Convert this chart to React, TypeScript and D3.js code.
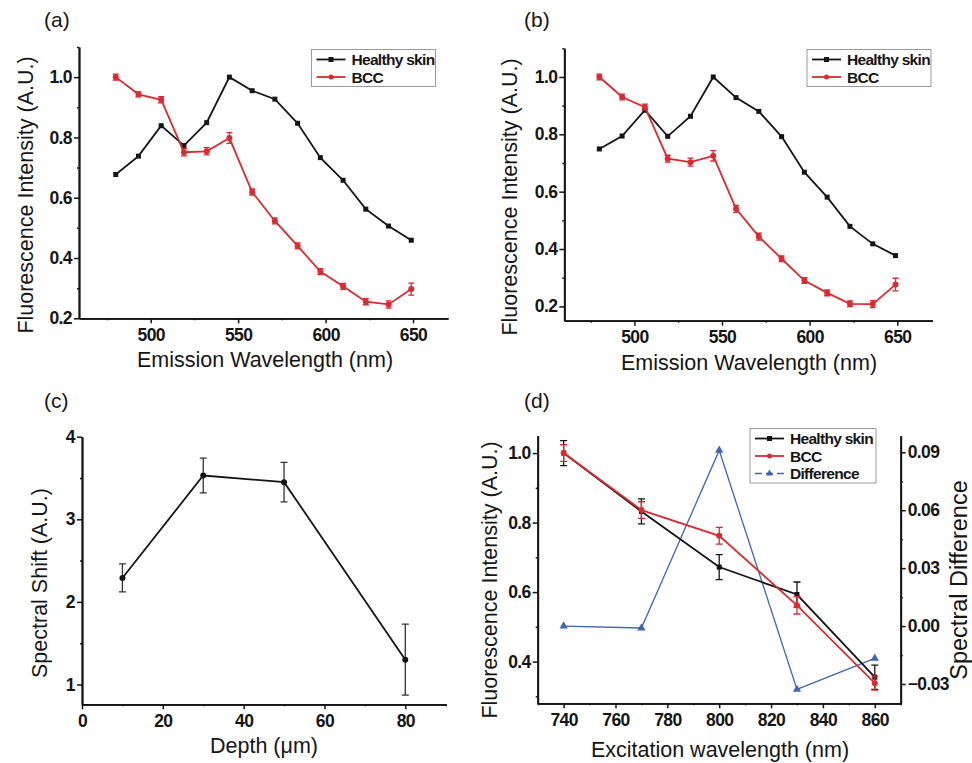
import * as d3 from 'd3'
import {useRef, useEffect} from 'react'

// (a) and (b): emission spectra
const emissionWl = [480, 493, 506, 519, 532, 545, 558, 571, 584, 597, 610, 623, 636, 649]
const healthyA = [0.677, 0.738, 0.839, 0.773, 0.849, 1.0, 0.955, 0.927, 0.847, 0.733, 0.658, 0.562, 0.506, 0.459]
const bccA = [1.0, 0.943, 0.925, 0.751, 0.754, 0.798, 0.619, 0.523, 0.44, 0.355, 0.306, 0.255, 0.246, 0.297]
const bccAErr = [0.01, 0.008, 0.01, 0.012, 0.012, 0.018, 0.01, 0.01, 0.01, 0.01, 0.01, 0.01, 0.012, 0.02]
const healthyB = [0.749, 0.794, 0.884, 0.793, 0.863, 1.0, 0.928, 0.88, 0.792, 0.668, 0.581, 0.479, 0.418, 0.377]
const bccB = [1.0, 0.93, 0.895, 0.715, 0.703, 0.725, 0.54, 0.443, 0.366, 0.29, 0.247, 0.209, 0.208, 0.276]
const bccBErr = [0.01, 0.01, 0.01, 0.012, 0.014, 0.018, 0.012, 0.012, 0.01, 0.01, 0.01, 0.01, 0.012, 0.022]

// (c): spectral shift vs depth
const depth = [10, 30, 50, 80]
const shift = [2.29, 3.53, 3.45, 1.3]
const shiftErr = [0.17, 0.21, 0.24, 0.43]

// (d): excitation
const excitationWl = [740, 770, 800, 830, 860]
const healthyD = [1.0, 0.832, 0.672, 0.593, 0.355]
const healthyDErr = [0.036, 0.036, 0.036, 0.036, 0.035]
const bccD = [1.0, 0.836, 0.762, 0.562, 0.338]
const bccDErr = [0.024, 0.024, 0.024, 0.025, 0.02]
const diffD = [0.0, -0.001, 0.091, -0.0328, -0.0167]

const emissionTicks = [500, 550, 600, 650]
const emissionMinor = [475, 525, 575, 625]
const intensityTicks = [0.2, 0.4, 0.6, 0.8, 1.0]
const intensityMinor = [0.3, 0.5, 0.7, 0.9, 1.1]
const depthTicks = [0, 20, 40, 60, 80]
const depthMinor = [10, 30, 50, 70, 90]
const shiftTicks = [1, 2, 3, 4]
const shiftMinor = [1.5, 2.5, 3.5]
const excTicks = [740, 760, 780, 800, 820, 840, 860]
const excMinor = [730, 750, 770, 790, 810, 830, 850, 870]
const intensDTicks = [0.4, 0.6, 0.8, 1.0]
const intensDMinor = [0.3, 0.5, 0.7, 0.9]
const diffTicks = [-0.03, 0, 0.03, 0.06, 0.09]
const diffMinor = [-0.015, 0.015, 0.045, 0.075]

const RED = '#db2a30'
const BLACK = '#151515'
const BLUE = '#3f64b8'
const FONT = '"Liberation Sans", Arial, sans-serif'

const styleAxis = (g) => {
  g.select('.domain').attr('stroke', BLACK).attr('stroke-width', 1.8)
  g.selectAll('.tick line').attr('stroke', BLACK).attr('stroke-width', 1.5)
  g.selectAll('.tick text')
    .attr('fill', BLACK)
    .attr('font-family', FONT)
    .attr('font-weight', 'bold')
    .attr('font-size', 17.5)
    .attr('letter-spacing', -0.6)
}

const addAxis = (svg, axisFn, scale, pos, major, minor, fmt) => {
  const tr = (axisFn === d3.axisBottom) ? `translate(0,${pos})` : `translate(${pos},0)`
  svg.append('g').attr('transform', tr)
    .call(axisFn(scale).tickValues(minor).tickSize(2).tickFormat(() => '').tickSizeOuter(0))
    .call(styleAxis)
  svg.append('g').attr('transform', tr)
    .call(axisFn(scale).tickValues(major).tickSize(5).tickPadding(axisFn === d3.axisBottom ? 5 : 2).tickFormat(fmt).tickSizeOuter(0))
    .call(styleAxis)
}

const addText = (svg, txt, x, y, size, rotate = 0, anchor = 'middle') => {
  svg.append('text')
    .attr('transform', `translate(${x},${y}) rotate(${rotate})`)
    .attr('text-anchor', anchor)
    .attr('font-family', FONT)
    .attr('font-size', size)
    .attr('fill', BLACK)
    .text(txt)
}

const marker = (g, kind, cx, cy, color, size) => {
  if (kind === 'square') {
    g.append('rect').attr('x', cx - size / 2).attr('y', cy - size / 2)
      .attr('width', size).attr('height', size).attr('fill', color)
  } else if (kind === 'circle') {
    g.append('circle').attr('cx', cx).attr('cy', cy).attr('r', size / 2).attr('fill', color)
  } else {
    const sym = d3.symbol(d3.symbolTriangle, size * size * 0.6)
    g.append('path').attr('d', sym()).attr('transform', `translate(${cx},${cy})`).attr('fill', color)
  }
}

const series = (svg, x, y, xs, ys, opts) => {
  const g = svg.append('g')
  const pts = xs.map((v, i) => [v, ys[i]])
  g.append('path')
    .attr('d', d3.line().x((d) => x(d[0])).y((d) => y(d[1]))(pts))
    .attr('fill', 'none')
    .attr('stroke', opts.color)
    .attr('stroke-width', opts.width || 1.8)
  if (opts.err) {
    pts.forEach((d, i) => {
      const e = opts.err[i]
      const cx = x(d[0])
      const cap = opts.cap || 3
      const y1 = y(d[1] + e), y2 = y(d[1] - e)
      g.append('path')
        .attr('d', `M${cx},${y1}V${y2}M${cx - cap},${y1}H${cx + cap}M${cx - cap},${y2}H${cx + cap}`)
        .attr('stroke', opts.errColor || opts.color)
        .attr('stroke-width', 1.3)
        .attr('fill', 'none')
    })
  }
  pts.forEach((d) => marker(g, opts.marker, x(d[0]), y(d[1]), opts.color, opts.size || 5))
}

const legend = (svg, x0, y0, w, items) => {
  const rowH = 17.5
  svg.append('rect').attr('x', x0).attr('y', y0).attr('width', w).attr('height', items.length * rowH + 2)
    .attr('fill', 'white').attr('stroke', '#9a9a9a').attr('stroke-width', 1)
  items.forEach((it, i) => {
    const cy = y0 + 10 + i * rowH
    svg.append('line').attr('x1', x0 + 5).attr('x2', x0 + 34).attr('y1', cy).attr('y2', cy)
      .attr('stroke', it.color).attr('stroke-width', it.dash ? 1.4 : 1.8)
      .attr('stroke-dasharray', it.dash ? '7,4' : null)
    marker(svg, it.marker, x0 + 19.5, cy, it.color, it.marker === 'triangle' ? 6 : 5)
    svg.append('text').attr('x', x0 + 40).attr('y', cy + 5.5)
      .attr('font-family', FONT).attr('font-weight', 'bold').attr('font-size', 15.5)
      .attr('letter-spacing', -0.7).attr('fill', BLACK).text(it.label)
  })
}

const App = () => {
  const svgRef = useRef(null)

  useEffect(() => {
    const svg = d3.select(svgRef.current)
    svg.selectAll('*').remove()
    const f1 = d3.format('.1f')

    // panel (a)
    const xa = d3.scaleLinear().domain([459, 670]).range([79, 448])
    const ya = d3.scaleLinear().domain([0.2, 1.1]).range([318.3, 47])
    addAxis(svg, d3.axisBottom, xa, 318.3, emissionTicks, emissionMinor, d3.format('d'))
    addAxis(svg, d3.axisLeft, ya, 79, intensityTicks, intensityMinor, f1)
    series(svg, xa, ya, emissionWl, healthyA, {color: BLACK, marker: 'square'})
    series(svg, xa, ya, emissionWl, bccA, {color: RED, marker: 'circle', err: bccAErr, size: 6})
    legend(svg, 311.5, 49.5, 124, [
      {label: 'Healthy skin', color: BLACK, marker: 'square'},
      {label: 'BCC', color: RED, marker: 'circle'},
    ])
    addText(svg, '(a)', 44, 27, 21, 0, 'start')
    addText(svg, 'Fluorescence Intensity (A.U.)', 33, 195, 21.5, -90)
    addText(svg, 'Emission Wavelength (nm)', 265, 367, 21.5)

    // panel (b)
    const xb = d3.scaleLinear().domain([460, 670]).range([564.3, 932.3])
    const yb = d3.scaleLinear().domain([0.15, 1.1]).range([320.7, 48.3])
    addAxis(svg, d3.axisBottom, xb, 320.7, emissionTicks, emissionMinor, d3.format('d'))
    addAxis(svg, d3.axisLeft, yb, 564.3, intensityTicks, intensityMinor, f1)
    series(svg, xb, yb, emissionWl, healthyB, {color: BLACK, marker: 'square'})
    series(svg, xb, yb, emissionWl, bccB, {color: RED, marker: 'circle', err: bccBErr, size: 6})
    legend(svg, 807, 49.5, 124, [
      {label: 'Healthy skin', color: BLACK, marker: 'square'},
      {label: 'BCC', color: RED, marker: 'circle'},
    ])
    addText(svg, '(b)', 524, 27, 21, 0, 'start')
    addText(svg, 'Fluorescence Intensity (A.U.)', 517, 197, 21.5, -90)
    addText(svg, 'Emission Wavelength (nm)', 749, 370, 21.5)

    // panel (c)
    const xc = d3.scaleLinear().domain([0, 90]).range([82, 445.7])
    const yc = d3.scaleLinear().domain([0.76, 4]).range([704.3, 436.7])
    addAxis(svg, d3.axisBottom, xc, 704.3, depthTicks, depthMinor, d3.format('d'))
    addAxis(svg, d3.axisLeft, yc, 82, shiftTicks, shiftMinor, d3.format('d'))
    series(svg, xc, yc, depth, shift, {color: BLACK, marker: 'circle', err: shiftErr, size: 6, cap: 3.5, errColor: '#333'})
    addText(svg, '(c)', 44, 408, 21, 0, 'start')
    addText(svg, 'Spectral Shift (A.U.)', 47, 583, 21.5, -90)
    addText(svg, 'Depth (\u03bcm)', 264, 753, 21.5)

    // panel (d)
    const xd = d3.scaleLinear().domain([730, 870]).range([537.7, 900.7])
    const yd = d3.scaleLinear().domain([0.28, 1.05]).range([703.3, 435.7])
    const yd2 = d3.scaleLinear().domain([-0.04, 0.0986]).range([703.3, 435.7])
    addAxis(svg, d3.axisBottom, xd, 703.3, excTicks, excMinor, d3.format('d'))
    addAxis(svg, d3.axisLeft, yd, 537.7, intensDTicks, intensDMinor, f1)
    addAxis(svg, d3.axisRight, yd2, 900.7, diffTicks, diffMinor, d3.format('.2f'))
    series(svg, xd, yd2, excitationWl, diffD, {color: BLUE, marker: 'triangle', width: 1.3, size: 7})
    series(svg, xd, yd, excitationWl, healthyD, {color: BLACK, marker: 'square', err: healthyDErr, cap: 3.5})
    series(svg, xd, yd, excitationWl, bccD, {color: RED, marker: 'circle', err: bccDErr, size: 6, cap: 3.5})
    legend(svg, 750, 428.5, 126, [
      {label: 'Healthy skin', color: BLACK, marker: 'square'},
      {label: 'BCC', color: RED, marker: 'circle'},
      {label: 'Difference', color: BLUE, marker: 'triangle', dash: true},
    ])
    addText(svg, '(d)', 524, 408, 21, 0, 'start')
    addText(svg, 'Fluorescence Intensity (A.U.)', 497, 580, 21.5, -90)
    addText(svg, 'Spectral Difference', 967, 580, 23.5, -90)
    addText(svg, 'Excitation wavelength (nm)', 720, 757, 21.5)
  }, [])

  return (
    <svg ref={svgRef} width={972} height={763} viewBox="0 0 972 763"
      style={{position: 'absolute', left: 0, top: 0, background: 'white'}} />
  )
}

export default App
